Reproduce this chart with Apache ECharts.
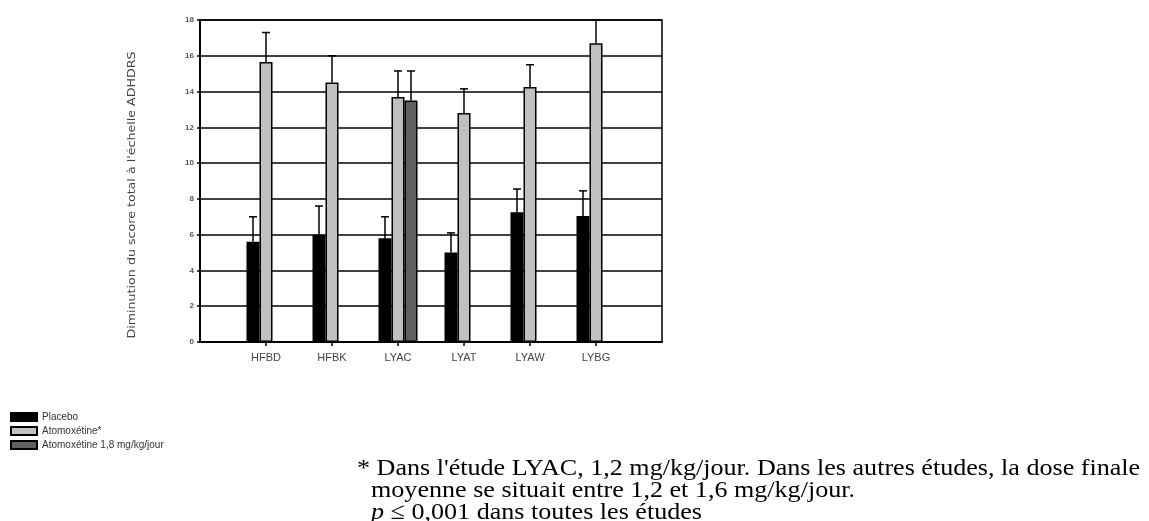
<!DOCTYPE html>
<html lang="fr">
<head>
    <meta charset="UTF-8">
    <title>Diminution du score total ADHDRS</title>
    <script src="https://cdn.jsdelivr.net/npm/echarts@6.0.0/dist/echarts.min.js"></script>
    <style>
        html, body { margin: 0; padding: 0; background: #fff; }
        #chart { width: 1149px; height: 521px; }
    </style>
</head>
<body>
    <div id="chart"></div>
    <script>
        // études (un emplacement vide de chaque côté de l'axe)
        const studies = ['HFBD', 'HFBK', 'LYAC', 'LYAT', 'LYAW', 'LYBG'];
        const yTicks = [0, 2, 4, 6, 8, 10, 12, 14, 16, 18];

        // moyennes et haut de la barre d'erreur
        const placebo = [5.6, 6.0, 5.8, 5.0, 7.25, 7.05];
        const placeboTop = [7.0, 7.6, 7.0, 6.1, 8.55, 8.45];
        const atomox = [15.65, 14.5, 13.7, 12.8, 14.25, 16.7];
        const atomoxTop = [17.3, 16.0, 15.15, 14.15, 15.5, 18.0];
        const atomox18 = [null, null, 13.5, null, null, null];
        const atomox18Top = [null, null, 15.15, null, null, null];

        const seriesNames = ['Placebo', 'Atomoxétine*', 'Atomoxétine 1,8 mg/kg/jour'];

        const axisCats = [''].concat(studies, ['']);
        const pad = arr => [null].concat(arr, [null]);

        const BAR_W = 13;

        // barre d'erreur : trait vertical + petit chapeau
        function errorSeries(means, tops, offset) {
            const data = [];
            means.forEach((m, i) => {
                if (m != null) data.push([i + 1, m, tops[i]]);
            });
            return {
                type: 'custom',
                z: 5,
                silent: true,
                data: data,
                encode: { x: 0, y: [1, 2] },
                renderItem: function (params, api) {
                    const base = api.coord([api.value(0), api.value(1)]);
                    const top = api.coord([api.value(0), api.value(2)]);
                    const x = base[0] + offset;
                    const style = { stroke: '#000', lineWidth: 1.5 };
                    return {
                        type: 'group',
                        children: [
                            { type: 'line', shape: { x1: x, y1: base[1], x2: x, y2: top[1] }, style: style },
                            { type: 'line', shape: { x1: x - 4, y1: top[1], x2: x + 4, y2: top[1] }, style: style }
                        ]
                    };
                }
            };
        }

        const serif = '24px "Liberation Serif"';
        const stretch = 1.087;

        const chart = echarts.init(document.getElementById('chart'));
        chart.setOption({
            animation: false,
            grid: {
                left: 200, right: 487, top: 20, bottom: 179,
                show: true, borderColor: '#000', borderWidth: 1.5
            },
            legend: {
                orient: 'vertical',
                left: 5, top: 406,
                itemWidth: 26, itemHeight: 8, itemGap: 2,
                icon: 'rect',
                data: seriesNames,
                textStyle: { fontFamily: 'Liberation Sans', fontSize: 10, color: '#333', lineHeight: 12 }
            },
            xAxis: {
                type: 'category',
                data: axisCats,
                boundaryGap: false,
                axisLine: { lineStyle: { color: '#000', width: 2 } },
                axisTick: {
                    length: 4,
                    interval: i => i > 0 && i < axisCats.length - 1,
                    lineStyle: { color: '#000', width: 1.5 }
                },
                axisLabel: {
                    interval: 0, margin: 10,
                    fontFamily: 'Liberation Sans', fontSize: 11, color: '#444'
                },
                splitLine: { show: false }
            },
            yAxis: {
                type: 'value',
                min: yTicks[0], max: yTicks[yTicks.length - 1], interval: 2,
                axisLine: { show: true, lineStyle: { color: '#000', width: 2 } },
                axisTick: { show: true, length: 3, lineStyle: { color: '#000', width: 1.5 } },
                axisLabel: { fontFamily: 'Liberation Sans', fontSize: 8, fontWeight: 'bold', color: '#555', margin: 6 },
                splitLine: { lineStyle: { color: '#000', width: 1.5 } }
            },
            series: [
                {
                    name: seriesNames[0], type: 'bar', data: pad(placebo),
                    barWidth: BAR_W, barGap: '0%',
                    itemStyle: { color: '#000', borderColor: '#000', borderWidth: 1.5 }
                },
                {
                    name: seriesNames[1], type: 'bar', data: pad(atomox),
                    barWidth: BAR_W, barGap: '0%',
                    itemStyle: { color: '#c0c0c0', borderColor: '#000', borderWidth: 1.5 }
                },
                {
                    name: seriesNames[2], type: 'bar', data: pad(atomox18),
                    barWidth: BAR_W, barGap: '0%',
                    itemStyle: { color: '#606060', borderColor: '#000', borderWidth: 1.5 }
                },
                errorSeries(placebo, placeboTop, -BAR_W),
                errorSeries(atomox, atomoxTop, 0),
                errorSeries(atomox18, atomox18Top, BAR_W)
            ],
            graphic: [
                {
                    type: 'text', x: 132, y: 195, rotation: Math.PI / 2, scaleX: 1.15,
                    style: {
                        text: "Diminution du score total à l'échelle ADHDRS",
                        font: '11px "DejaVu Sans"', fill: '#444',
                        textAlign: 'center', textVerticalAlign: 'middle'
                    }
                },
                {
                    type: 'text', x: 357, y: 469, scaleX: stretch,
                    style: {
                        text: "* Dans l'étude LYAC, 1,2 mg/kg/jour. Dans les autres études, la dose finale",
                        font: serif, fill: '#000', textVerticalAlign: 'middle'
                    }
                },
                {
                    type: 'text', x: 371, y: 491, scaleX: stretch,
                    style: {
                        text: 'moyenne se situait entre 1,2 et 1,6 mg/kg/jour.',
                        font: serif, fill: '#000', textVerticalAlign: 'middle'
                    }
                },
                {
                    type: 'text', x: 371, y: 513, scaleX: stretch,
                    style: {
                        text: '{i|p} ≤ 0,001 dans toutes les études',
                        font: serif, fill: '#000', textVerticalAlign: 'middle',
                        rich: { i: { font: 'italic ' + serif, fill: '#000' } }
                    }
                }
            ]
        });
    </script>
</body>
</html>
